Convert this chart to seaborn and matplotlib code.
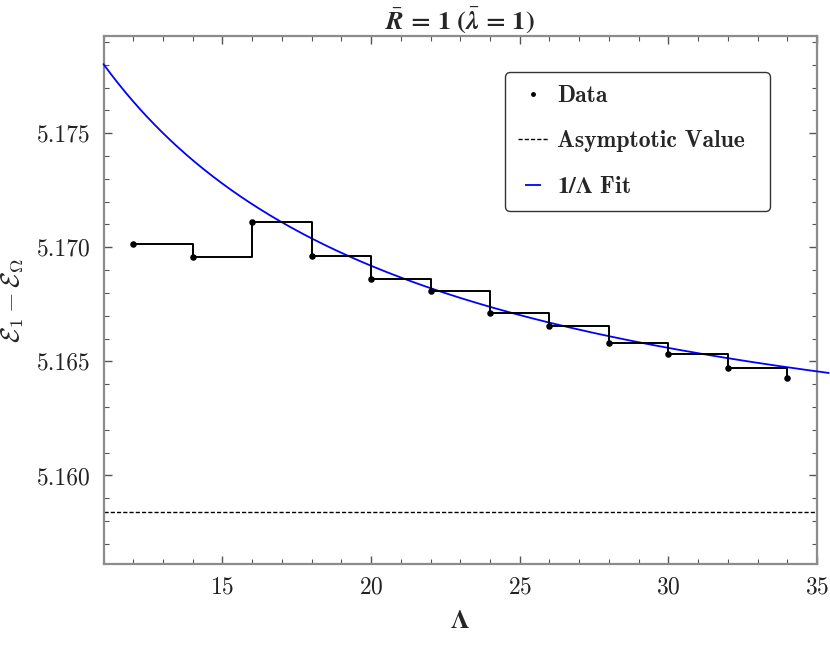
import numpy as np
import pandas as pd
import matplotlib
matplotlib.use('Agg')
import matplotlib.pyplot as plt
from matplotlib.lines import Line2D
from matplotlib.font_manager import FontProperties
from matplotlib.ticker import MultipleLocator, FormatStrFormatter
import seaborn as sns

# data
cutoff = [12, 14, 16, 18, 20, 22, 24, 26, 28, 30, 32, 34]
energy_gap = [5.17013, 5.16958, 5.17111, 5.16961, 5.16860, 5.16809,
              5.16714, 5.16655, 5.16582, 5.16532, 5.16472, 5.16429]
asymptote = 5.15839
fit_coef = 0.2160  # E(L) = asymptote + fit_coef / L
fit_range = [11, 35.4]

sns.set_theme(style='ticks')
plt.rcParams['font.family'] = ['cmr10', 'DejaVu Sans']
plt.rcParams['mathtext.fontset'] = 'cm'
plt.rcParams['axes.formatter.use_mathtext'] = True

df = pd.DataFrame({'L': cutoff, 'E': energy_gap})
L_fit = np.linspace(fit_range[0], fit_range[1], 400)
fit_df = pd.DataFrame({'L': L_fit, 'E': asymptote + fit_coef / L_fit})

fig = plt.figure(figsize=(8.3, 6.45), dpi=100)
ax = fig.add_axes([0.1247, 0.1256, 0.8596, 0.8186])

# 1/Lambda fit (runs past the right frame like the original)
sns.lineplot(data=fit_df, x='L', y='E', color='#0000ff', lw=1.3,
             ax=ax, clip_on=False, zorder=3)
# step curve through the data
sns.lineplot(data=df, x='L', y='E', color='black', lw=1.4,
             drawstyle='steps-post', ax=ax, zorder=4)
sns.scatterplot(data=df, x='L', y='E', color='black', s=22,
                edgecolor='black', linewidth=0, ax=ax, zorder=5)
ax.axhline(asymptote, color='black', lw=1.0, ls=(0, (3, 1.5)), zorder=2)

ax.set_xlim(11, 35)
ax.set_ylim(5.15612, 5.17926)
ax.xaxis.set_major_locator(MultipleLocator(5))
ax.xaxis.set_minor_locator(MultipleLocator(1))
ax.yaxis.set_major_locator(MultipleLocator(0.005))
ax.yaxis.set_minor_locator(MultipleLocator(0.001))
ax.yaxis.set_major_formatter(FormatStrFormatter('%.3f'))

frame_col = '#8c8c8c'
for sp in ax.spines.values():
    sp.set_color(frame_col)
    sp.set_linewidth(1.6)
ax.tick_params(which='both', direction='in', top=True, right=True,
               color='#555555', labelsize=17, labelcolor='#222222')
ax.tick_params(which='major', length=6, width=1.0, pad=9)
ax.tick_params(which='minor', length=3.5, width=0.8)

ax.set_xlabel(r'$\mathbf{\Lambda}$', fontsize=19, labelpad=8,
              math_fontfamily='stix')
ax.set_ylabel(r'$\mathcal{E}_1 - \mathcal{E}_\Omega$', fontsize=19, labelpad=8)
ax.set_title(r'$\bar{\mathbfit{R}}\mathbf{\,=\,1\ (}\bar{\mathbfit{\lambda}}\mathbf{\,=\,1)}$',
             fontsize=19, pad=5, math_fontfamily='stix')

handles = [
    Line2D([], [], color='black', marker='.', ls='none', markersize=5),
    Line2D([], [], color='black', lw=1.0, ls=(0, (3, 1.5))),
    Line2D([], [], color='#0000ff', marker='_', ls='none', markersize=11,
           markeredgewidth=1.3),
]
labels = ['Data', 'Asymptotic Value', r'$\mathbf{1/\Lambda}$ Fit']
leg_font = FontProperties(family='cmb10', size=17, math_fontfamily='stix')
leg = ax.legend(handles, labels, loc='upper left',
                bbox_to_anchor=(0.5627, 0.6686, 0.371, 0.2634), mode='expand',
                borderaxespad=0, frameon=True, fancybox=True, handlelength=1.3,
                handletextpad=0.35, labelspacing=1.0, borderpad=0.55,
                prop=leg_font)
leg.get_frame().set_edgecolor('#333333')
leg.get_frame().set_linewidth(1.0)
leg.get_frame().set_alpha(1)

fig.savefig('out.png', dpi=100)
